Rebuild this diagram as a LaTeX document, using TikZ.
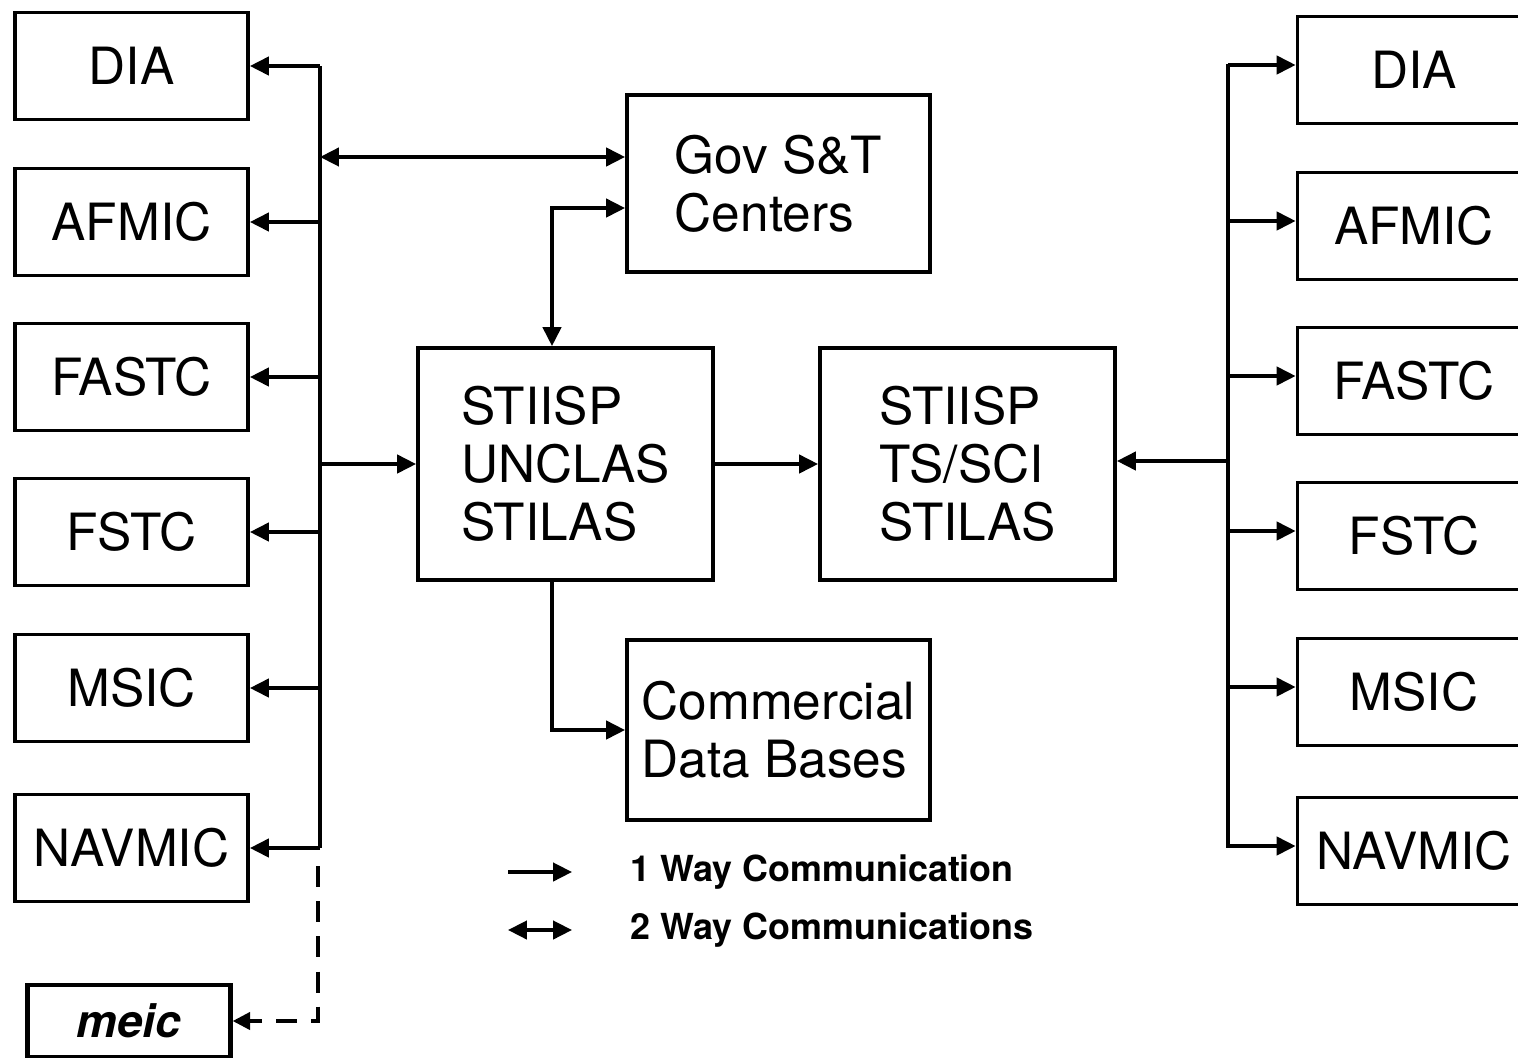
\documentclass[tikz,border=0pt]{standalone}
\usepackage{fontspec}
\setmainfont{TeX Gyre Heros}
\usetikzlibrary{
  arrows.meta,
  positioning
}
\newcommand{\diagramboxfont}{\fontsize{14.6}{16.5}\selectfont}
\newcommand{\diagramlegendfont}{\bfseries\fontsize{10.2}{12}\selectfont}
\newcommand{\diagramhandfont}{\bfseries\itshape\fontsize{13}{15}\selectfont}
\tikzset{
  % Boxes: one look for the agency columns, one for the central systems.
  agency box/.style={
    draw=black,
    line width=1.05pt,
    minimum width=2.33cm,
    minimum height=1.07cm,
    inner sep=0pt,
    font=\diagramboxfont
  },
  system box/.style={
    draw=black,
    line width=1.05pt,
    inner sep=0pt,
    align=left,
    font=\diagramboxfont
  },
  hand box/.style={
    draw=black,
    line width=1.4pt,
    minimum width=2.02cm,
    minimum height=0.72cm,
    inner sep=0pt,
    font=\diagramhandfont
  },
  legend text/.style={
    anchor=west,
    inner sep=0pt,
    font=\diagramlegendfont
  },
  wire/.style={
    draw=black,
    line width=1pt
  },
  flow/.style={
    wire,
    -{Triangle[length=5.4pt,width=5.2pt]}
  },
  two way/.style={
    wire,
    {Triangle[length=5.4pt,width=5.2pt]}-{Triangle[length=5.4pt,width=5.2pt]}
  },
  hand flow/.style={
    -{Triangle[length=5pt,width=4.8pt]},
    draw=black,
    line width=1.3pt,
    dash pattern=on 6pt off 4pt
  }
}

\begin{document}
\begin{tikzpicture}[x=0.01cm,y=-0.01cm]

\useasboundingbox (0,0) rectangle (1518,1057);

% ---------------------------------------------------------------------------
% Bus positions
% ---------------------------------------------------------------------------
\coordinate (leftBus) at (320,0);
\coordinate (rightBus) at (1228,0);
\coordinate (midDrop) at (552,0);

% ---------------------------------------------------------------------------
% Agency columns
% ---------------------------------------------------------------------------
\foreach \name/\y/\body in {
  lDIA/66/DIA, lAFMIC/222/AFMIC, lFASTC/377/FASTC,
  lFSTC/532/FSTC, lMSIC/688/MSIC, lNAVMIC/848/NAVMIC
}{
  \node[agency box] (\name) at (131.5,\y) {\body};
}

\foreach \name/\y/\body in {
  rDIA/70/DIA, rAFMIC/226/AFMIC, rFASTC/381/FASTC,
  rFSTC/536/FSTC, rMSIC/692/MSIC, rNAVMIC/851/NAVMIC
}{
  \node[agency box] (\name) at (1414,\y) {\body};
}

\node[hand box] (meic) at (129,1021) {meic};

% ---------------------------------------------------------------------------
% Central systems
% ---------------------------------------------------------------------------
\node[system box, minimum width=3.03cm, minimum height=1.77cm] (govCenters)
  at (778.5,183.5) {Gov S\&T\\Centers};

\node[system box, minimum width=2.95cm, minimum height=2.32cm] (unclas)
  at (565.5,464) {STIISP\\UNCLAS\\STILAS};

\node[system box, minimum width=2.95cm, minimum height=2.32cm] (tssci)
  at (967.5,464) {STIISP\\TS/SCI\\STILAS};

\node[system box, minimum width=3.03cm, minimum height=1.80cm] (commercial)
  at (778.5,730) {Commercial\\Data Bases};

% ---------------------------------------------------------------------------
% Left bus: fan-out to the agencies
% ---------------------------------------------------------------------------
\draw[wire] (lDIA.east -| leftBus) -- (lNAVMIC.east -| leftBus);
\foreach \name in {lDIA,lAFMIC,lFASTC,lFSTC,lMSIC,lNAVMIC}{
  \draw[flow] (\name.east -| leftBus) -- (\name.east);
}
\draw[two way] ([yshift=2.65mm]govCenters.west -| leftBus) --
  ([yshift=2.65mm]govCenters.west);
\draw[flow] (unclas.west -| leftBus) -- (unclas.west);

% hand-drawn addition
\coordinate (meicTap) at (318,866);
\draw[hand flow] (meicTap) |- (meic.east);

% ---------------------------------------------------------------------------
% Central links
% ---------------------------------------------------------------------------
\draw[two way] ([yshift=-2.45mm]govCenters.west) -| (unclas.north -| midDrop);
\draw[flow] (unclas.east) -- (tssci.west);
\draw[flow] (unclas.south -| midDrop) |- (commercial.west);

% ---------------------------------------------------------------------------
% Right bus (arrows sit a little above the box centres)
% ---------------------------------------------------------------------------
\draw[wire] ([yshift=0.6mm]rDIA.west -| rightBus) --
  ([yshift=0.3mm]rNAVMIC.west -| rightBus);
\foreach \name in {rDIA,rAFMIC,rFASTC,rFSTC,rMSIC,rNAVMIC}{
  \draw[flow] ([yshift=0.5mm]\name.west -| rightBus) -- ([yshift=0.5mm]\name.west);
}
\draw[flow] ([yshift=0.3mm]tssci.east -| rightBus) -- ([yshift=0.3mm]tssci.east);

% ---------------------------------------------------------------------------
% Legend
% ---------------------------------------------------------------------------
\coordinate (oneWayA) at (508,872);
\coordinate (oneWayB) at (572,872);
\coordinate (twoWayA) at (508,930);
\coordinate (twoWayB) at (572,930);
\draw[flow] (oneWayA) -- (oneWayB);
\draw[two way] (twoWayA) -- (twoWayB);
\node[legend text] (oneWayText) at (630,872) {1 Way Communication};
\node[legend text] (twoWayText) at (630,930) {2 Way Communications};

\end{tikzpicture}
\end{document}
